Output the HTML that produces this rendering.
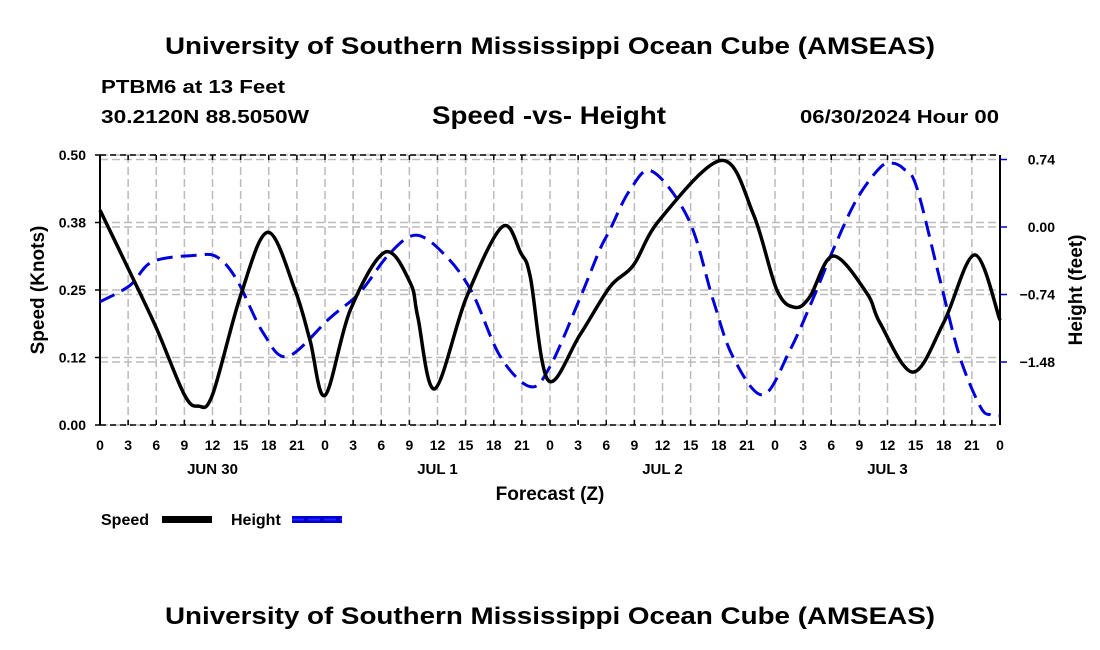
<!DOCTYPE html>
<html><head><meta charset="utf-8"><style>
html,body{margin:0;padding:0;background:#fff;width:1100px;height:650px;overflow:hidden}
svg text{font-family:"Liberation Sans",sans-serif;font-weight:bold;fill:#000}
</style></head><body>
<svg id="chart" width="1100" height="650" viewBox="0 0 1100 650" xmlns="http://www.w3.org/2000/svg">
<text x="550" y="54" font-size="24" text-anchor="middle" textLength="770" lengthAdjust="spacingAndGlyphs">University of Southern Mississippi Ocean Cube (AMSEAS)</text>
<text x="101" y="93" font-size="18" textLength="184" lengthAdjust="spacingAndGlyphs">PTBM6 at 13 Feet</text>
<text x="101" y="123" font-size="18" textLength="208" lengthAdjust="spacingAndGlyphs">30.2120N  88.5050W</text>
<text x="549" y="124" font-size="25" text-anchor="middle" textLength="234" lengthAdjust="spacingAndGlyphs">Speed -vs- Height</text>
<text x="999" y="123" font-size="18" text-anchor="end" textLength="199" lengthAdjust="spacingAndGlyphs">06/30/2024 Hour 00</text>
<g id="grid"></g>
<g id="axes"></g>
<g id="series"></g>
<text transform="translate(44,290) rotate(-90)" font-size="19" text-anchor="middle">Speed (Knots)</text>
<text transform="translate(1082,290) rotate(-90)" font-size="19" text-anchor="middle">Height (feet)</text>
<text x="550" y="500" font-size="19" text-anchor="middle">Forecast (Z)</text>
<text x="101" y="525" font-size="16">Speed</text>
<rect x="162" y="516" width="50" height="7" fill="#000"/>
<text x="231" y="525" font-size="16">Height</text>
<rect x="292" y="516" width="50" height="7" fill="#0000cc"/>
<line x1="292" y1="519.5" x2="342" y2="519.5" stroke="#2222ff" stroke-width="2" stroke-dasharray="12 4"/>
<text x="550" y="624" font-size="24" text-anchor="middle" textLength="770" lengthAdjust="spacingAndGlyphs">University of Southern Mississippi Ocean Cube (AMSEAS)</text>
</svg>
<script>
const speedHours=[0,3,6,9,10.5,12,15,17.9,20.8,22.4,24,26.7,30.4,33.1,33.9,35.7,39.1,42.9,44.9,45.9,47.8,51.2,54.4,56.9,59.7,66.3,69.7,72.2,74.1,75.7,78.2,81.8,83.2,86.7,90,93.3,96];
const speedValues=[0.398,0.29,0.18,0.056,0.035,0.056,0.24,0.357,0.25,0.157,0.055,0.213,0.32,0.263,0.2,0.067,0.237,0.367,0.318,0.274,0.083,0.167,0.256,0.296,0.38,0.49,0.39,0.25,0.218,0.237,0.313,0.244,0.189,0.098,0.19,0.315,0.194];
const heightHours=[0,3.2,5.6,10.3,12.5,14.6,17.4,20,24.5,27.7,30.9,33.8,37,39.7,42.7,45.9,48,51.2,53.3,54.4,56.5,58.9,62.8,65.4,67.5,70.7,73.6,76,78.2,80.7,83.2,84.5,85.7,87.1,89.6,91.7,93.9,95,96];
const heightValues=[-0.82,-0.64,-0.38,-0.31,-0.33,-0.58,-1.16,-1.42,-1.0,-0.72,-0.29,-0.09,-0.33,-0.72,-1.42,-1.75,-1.53,-0.78,-0.25,-0.03,0.40,0.61,0.08,-0.80,-1.42,-1.84,-1.35,-0.80,-0.25,0.30,0.65,0.70,0.64,0.44,-0.58,-1.42,-1.97,-2.06,-2.07];
const xTickLabels=["0","3","6","9","12","15","18","21"];
const dayLabels=["JUN 30","JUL 1","JUL 2","JUL 3"];
const speedTicks=[0,0.125,0.25,0.375,0.5];
const speedTickLabels=["0.00","0.12","0.25","0.38","0.50"];
const heightTicks=[0.74,0,-0.74,-1.48];
const heightTickLabels=["0.74","0.00","\u22120.74","\u22121.48"];

const L=100,R=1000,T=155,B=425;
const xS=h=>L+(R-L)*h/96;
const yS=v=>B-(B-T)*v/0.5;
const yH=v=>227-(v*67.5/0.74);
const NS="http://www.w3.org/2000/svg";
function mk(tag,attrs,parent){const e=document.createElementNS(NS,tag);for(const k in attrs)e.setAttribute(k,attrs[k]);parent.appendChild(e);return e;}
const grid=document.getElementById('grid'),axes=document.getElementById('axes'),series=document.getElementById('series');

for(let h=3;h<96;h+=3){
  const g=mk('line',{x1:xS(h),x2:xS(h),y1:T,y2:B,stroke:'#bbb','stroke-width':1.5,'stroke-dasharray':'8 4'},grid);
  
  
}
speedTicks.forEach(v=>{
  const g=mk('line',{x1:L,x2:R,y1:yS(v),y2:yS(v),stroke:'#bbb','stroke-width':1.5,'stroke-dasharray':'8 4'},grid);
  
  
});
heightTicks.forEach(v=>{
  const g=mk('line',{x1:L,x2:R,y1:yH(v),y2:yH(v),stroke:'#bbb','stroke-width':1.5,'stroke-dasharray':'8 4'},grid);
  
  
});
const fr=mk('line',{x1:L,x2:L,y1:T,y2:B,stroke:'#000','stroke-width':2},axes);


const fr2=mk('line',{x1:R,x2:R,y1:T,y2:B,stroke:'#000','stroke-width':2},axes);


const tb=mk('line',{x1:L,x2:R,y1:T,y2:T,stroke:'#000','stroke-width':1.5,'stroke-dasharray':'6 4'},axes);


const bb=mk('line',{x1:L,x2:R,y1:B,y2:B,stroke:'#000','stroke-width':1.5,'stroke-dasharray':'6 4'},axes);


for(let h=0;h<=96;h+=3){
  const tk=mk('line',{x1:xS(h),x2:xS(h),y1:B,y2:B-5,stroke:'#000','stroke-width':1.5},axes);
  
  
  const tk2=mk('line',{x1:xS(h),x2:xS(h),y1:T,y2:T+5,stroke:'#000','stroke-width':1.5},axes);
  
  
  const t=mk('text',{x:xS(h),y:450,'font-size':14,'text-anchor':'middle'},axes);
  t.textContent=xTickLabels[(h/3)%8];
  
  
}
dayLabels.forEach((d,i)=>{
  const t=mk('text',{x:xS(i*24+12),y:474,'font-size':15,'text-anchor':'middle'},axes);
  t.textContent=d;
  
  
});
speedTicks.forEach((v,i)=>{
  const tk=mk('line',{x1:L-5,x2:L,y1:yS(v),y2:yS(v),stroke:'#000','stroke-width':1.5},axes);
  
  
  const t=mk('text',{x:L-14,y:yS(v)+5,'font-size':14,'text-anchor':'end'},axes);
  t.textContent=speedTickLabels[i];
  
  
});
heightTicks.forEach((v,i)=>{
  const tk=mk('line',{x1:R,x2:R+7,y1:yH(v),y2:yH(v),stroke:'#0000cc','stroke-width':1.5},axes);
  
  
  const t=mk('text',{x:1055,y:yH(v)+5,'font-size':14,'text-anchor':'end'},axes);
  t.textContent=heightTickLabels[i];
  
  
});
function smooth(pts){
  let d='M'+pts[0][0]+','+pts[0][1];
  for(let i=0;i<pts.length-1;i++){
    const p0=pts[i-1]||pts[i],p1=pts[i],p2=pts[i+1],p3=pts[i+2]||p2;
    const c1=[p1[0]+(p2[0]-p0[0])/6,p1[1]+(p2[1]-p0[1])/6];
    const c2=[p2[0]-(p3[0]-p1[0])/6,p2[1]-(p3[1]-p1[1])/6];
    d+=' C'+c1[0]+','+c1[1]+' '+c2[0]+','+c2[1]+' '+p2[0]+','+p2[1];
  }
  return d;
}
const hp=mk('path',{d:smooth(heightHours.map((h,i)=>[xS(h),yH(heightValues[i])])),fill:'none',stroke:'#0000dd','stroke-width':3,'stroke-dasharray':'16 8'},series);


const sp=mk('path',{d:smooth(speedHours.map((h,i)=>[xS(h),yS(speedValues[i])])),fill:'none',stroke:'#000','stroke-width':3.5,'stroke-linejoin':'round'},series);


</script>
</body></html>
